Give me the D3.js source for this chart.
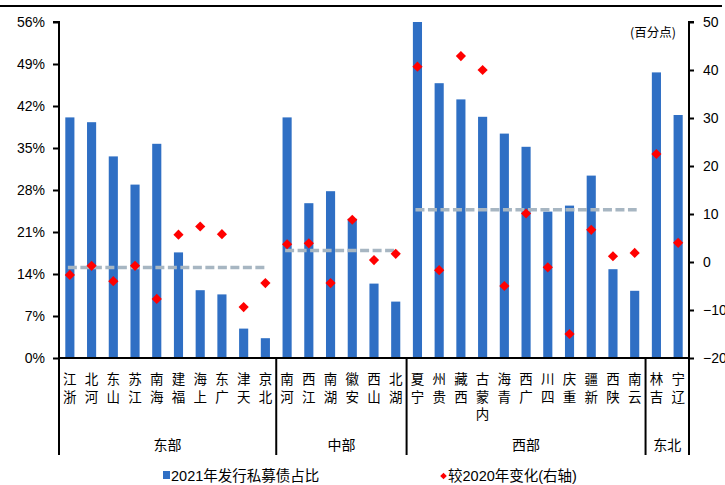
<!DOCTYPE html>
<html>
<head>
<meta charset="utf-8">
<script src="https://cdn.jsdelivr.net/npm/d3@7/dist/d3.min.js"></script>
<style>
  body { margin: 0; background: #fff; }
  svg { display: block; }
  text { font-family: "Liberation Sans", Arial, "Noto Sans CJK SC", sans-serif; fill: #000; }
  .cjk { font-family: "Noto Sans CJK SC", sans-serif; }
</style>
</head>
<body>
<div id="chart"></div>
<script>
// provinces in display order, grouped by region
var provinces = ["浙江", "河北", "山东", "江苏", "海南", "福建", "上海", "广东", "天津", "北京",
    "河南", "江西", "湖南", "安徽", "山西", "湖北",
    "宁夏", "贵州", "西藏", "内蒙古", "青海", "广西", "四川", "重庆", "新疆", "陕西", "云南",
    "吉林", "辽宁"];
var regions = ["东部", "中部", "西部", "东北"];
var regionSizes = [10, 6, 11, 2];
// 2021 share of private placement bonds (%)
var shareValues = [40.1, 39.3, 33.6, 28.9, 35.7, 17.6, 11.3, 10.6, 4.9, 3.3,
    40.1, 25.8, 27.8, 23.2, 12.4, 9.4,
    56.0, 45.8, 43.1, 40.2, 37.4, 35.2, 24.4, 25.4, 30.4, 14.8, 11.2,
    47.6, 40.5];
// change vs 2020 (percentage points, right axis)
var changeValues = [-2.7, -0.8, -4.0, -0.8, -7.7, 5.7, 7.4, 5.8, -9.4, -4.4,
    3.7, 3.9, -4.4, 8.8, 0.4, 1.7,
    40.7, -1.7, 42.9, 40.0, -5.0, 10.1, -1.1, -15.0, 6.7, 1.2, 1.9,
    22.5, 4.0];
// regional average share (dashed lines), 东北 has none
var regionAvg = [15.1, 17.9, 24.7, null];
var leftTicks = [0, 7, 14, 21, 28, 35, 42, 49, 56];
var rightTicks = [-20, -10, 0, 10, 20, 30, 40, 50];

function drawChart() {
    var width = 725, height = 485;
    var plotLeft = 59, plotRight = 689, plotTop = 22, plotBottom = 358;
    var barColor = "#2f6fc4";

    var svg = d3.select("#chart").append("svg")
        .attr("width", width)
        .attr("height", height);

    var pad = 0.58;
    var x = d3.scaleBand().domain(provinces).range([plotLeft, plotRight])
        .paddingInner(pad).paddingOuter(pad / 2);
    var yL = d3.scaleLinear().domain([0, 56]).range([plotBottom, plotTop]);
    var yR = d3.scaleLinear().domain([-20, 50]).range([plotBottom, plotTop]);
    var step = x.step();

    // top border
    svg.append("line")
        .attr("x1", 0).attr("x2", 722).attr("y1", 6).attr("y2", 6)
        .attr("stroke", "#000").attr("stroke-width", 2);

    // bars
    svg.selectAll(".bar")
        .data(provinces)
        .enter()
        .append("rect")
        .attr("class", "bar")
        .attr("x", d => x(d))
        .attr("width", x.bandwidth())
        .attr("y", (d, i) => yL(shareValues[i]))
        .attr("height", (d, i) => yL(0) - yL(shareValues[i]))
        .attr("fill", barColor);

    // regional average dashed lines
    var starts = [];
    var acc = 0;
    regionSizes.forEach(n => { starts.push(acc); acc += n; });
    regions.forEach((r, k) => {
        if (regionAvg[k] == null) return;
        var first = provinces[starts[k]];
        var last = provinces[starts[k] + regionSizes[k] - 1];
        svg.append("line")
            .attr("x1", x(first) + x.bandwidth() / 2 - 2)
            .attr("x2", x(last) + x.bandwidth() / 2 + 2)
            .attr("y1", yL(regionAvg[k]))
            .attr("y2", yL(regionAvg[k]))
            .attr("stroke", "#a7b6c2")
            .attr("stroke-width", 3.5)
            .attr("stroke-dasharray", "9,3.5");
    });

    // diamonds
    var diamond = d3.symbol().type(d3.symbolSquare).size(52);
    svg.selectAll(".dot")
        .data(provinces)
        .enter()
        .append("path")
        .attr("class", "dot")
        .attr("d", diamond)
        .attr("transform", (d, i) => `translate(${x(d) + x.bandwidth() / 2},${yR(changeValues[i])}) rotate(45)`)
        .attr("fill", "#ff0000");

    // left axis
    svg.append("g")
        .attr("transform", `translate(${plotLeft},0)`)
        .call(d3.axisLeft(yL).tickValues(leftTicks).tickSize(6).tickPadding(8).tickFormat(d => d + "%"))
        .call(g => g.select(".domain").attr("stroke-width", 2).attr("d", `M-6,${plotTop}H0V${plotBottom}`))
        .call(g => g.selectAll(".tick line").attr("stroke-width", 2))
        .call(g => g.selectAll("text").attr("font-size", 14).attr("fill", "#000"));

    // right axis
    svg.append("g")
        .attr("transform", `translate(${plotRight},0)`)
        .call(d3.axisRight(yR).tickValues(rightTicks).tickSize(5).tickPadding(9))
        .call(g => g.select(".domain").attr("stroke-width", 2).attr("d", `M5,${plotTop}H0V${plotBottom}`))
        .call(g => g.selectAll(".tick line").attr("stroke-width", 2))
        .call(g => g.selectAll("text").attr("font-size", 14).attr("fill", "#000"));

    svg.append("text")
        .attr("class", "cjk")
        .attr("x", 676).attr("y", 37)
        .attr("text-anchor", "end")
        .attr("font-size", 12.5)
        .text("(百分点)");

    // x baseline
    svg.append("line")
        .attr("x1", plotLeft).attr("x2", plotRight).attr("y1", plotBottom).attr("y2", plotBottom)
        .attr("stroke", "#000").attr("stroke-width", 2);

    // group separators
    var bounds = [];
    starts.forEach(s => bounds.push(plotLeft + s * step));
    bounds.push(plotRight);
    bounds.forEach(b => {
        svg.append("line")
            .attr("x1", b).attr("x2", b).attr("y1", plotBottom).attr("y2", 455)
            .attr("stroke", "#000").attr("stroke-width", 2);
    });

    // category labels: characters stacked, reading bottom to top
    provinces.forEach(p => {
        var chars = Array.from(p);
        var cx = x(p) + x.bandwidth() / 2;
        chars.forEach((c, k) => {
            svg.append("text")
                .attr("class", "cjk")
                .attr("x", cx)
                .attr("y", 378 + (chars.length - 1 - k) * 17.5)
                .attr("text-anchor", "middle")
                .attr("dominant-baseline", "central")
                .attr("font-size", 13.5)
                .style("fill", "#000")
                .text(c);
        });
    });

    // region labels
    regions.forEach((r, k) => {
        svg.append("text")
            .attr("class", "cjk")
            .attr("x", (bounds[k] + bounds[k + 1]) / 2)
            .attr("y", 444)
            .attr("text-anchor", "middle")
            .attr("dominant-baseline", "central")
            .attr("font-size", 14)
            .text(r);
    });

    // legend
    var lg = svg.append("g");
    lg.append("rect")
        .attr("x", 163).attr("y", 471).attr("width", 7).attr("height", 8)
        .attr("fill", barColor);
    lg.append("text")
        .attr("x", 171).attr("y", 481)
        .attr("font-size", 14.5)
        .text("2021年发行私募债占比");
    lg.append("path")
        .attr("d", d3.symbol().type(d3.symbolSquare).size(22))
        .attr("transform", "translate(443.5,476) rotate(45)")
        .attr("fill", "#ff0000");
    lg.append("text")
        .attr("x", 448).attr("y", 481)
        .attr("font-size", 14.5)
        .text("较2020年变化(右轴)");
}

drawChart();
</script>
</body>
</html>
